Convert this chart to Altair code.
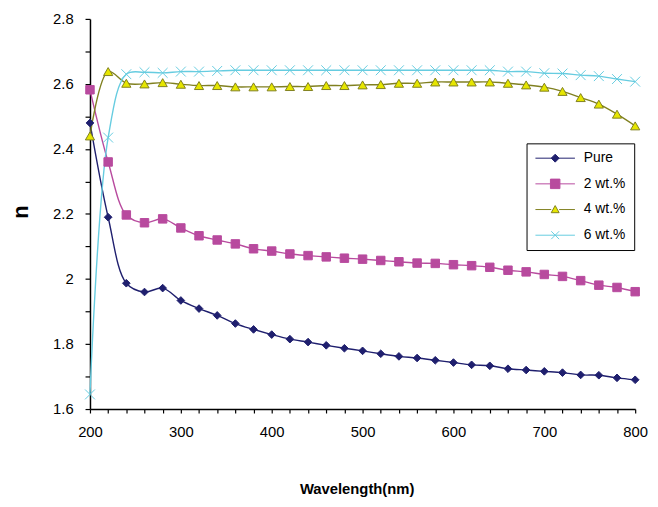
import altair as alt
import pandas as pd

wavelength = list(range(200, 801, 20))

pure = [2.48, 2.19, 1.987, 1.96, 1.972, 1.934, 1.909, 1.888, 1.863, 1.845, 1.829,
        1.815, 1.806, 1.796, 1.787, 1.779, 1.770, 1.762, 1.757, 1.750, 1.743,
        1.736, 1.733, 1.724, 1.720, 1.716, 1.712, 1.705, 1.704, 1.696, 1.690]
wt2 = [2.582, 2.36, 2.197, 2.173, 2.185, 2.157, 2.133, 2.12, 2.108, 2.093, 2.086,
       2.077, 2.072, 2.068, 2.064, 2.061, 2.057, 2.053, 2.049, 2.048, 2.044,
       2.041, 2.036, 2.027, 2.022, 2.014, 2.008, 1.995, 1.981, 1.974, 1.961]
wt4 = [2.44, 2.638, 2.602, 2.600, 2.604, 2.599, 2.595, 2.595, 2.591, 2.591, 2.591,
       2.592, 2.592, 2.595, 2.595, 2.597, 2.598, 2.602, 2.602, 2.606, 2.606,
       2.606, 2.606, 2.602, 2.597, 2.590, 2.577, 2.558, 2.538, 2.507, 2.471]
wt6 = [1.645, 2.435, 2.63, 2.636, 2.634, 2.638, 2.638, 2.640, 2.642, 2.642, 2.642,
       2.642, 2.642, 2.642, 2.642, 2.642, 2.642, 2.642, 2.642, 2.642, 2.642,
       2.642, 2.642, 2.638, 2.638, 2.633, 2.632, 2.627, 2.624, 2.615, 2.607]

series_names = ["Pure", "2 wt.%", "4 wt.%", "6 wt.%"]
line_colors = ["#1F1F6E", "#B84A9E", "#808020", "#66CCE0"]
fill_colors = ["#1F1F6E", "#B84A9E", "#E6E600", "#66CCE0"]
stroke_colors = ["#1F1F6E", "#B84A9E", "#808020", "#66CCE0"]

X_PATH = "M-1,-1L1,1M1,-1L-1,1"
shapes = ["diamond", "square", "triangle-up", X_PATH]
legend_shapes = [
    "M-5,0L5,0M0,-1L1,0L0,1L-1,0Z",
    "M-5,0L-1.2,0M1.2,0L5,0M-1.2,-1.2L1.2,-1.2L1.2,1.2L-1.2,1.2Z",
    "M-5,0L-1,0M1,0L5,0M0,-1L1,0.8L-1,0.8Z",
    "M-5,0L5,0M-1,-1L1,1M1,-1L-1,1",
]

rows = []
for name, vals in zip(series_names, [pure, wt2, wt4, wt6]):
    for w, v in zip(wavelength, vals):
        rows.append({"wavelength": w, "n": v, "series": name})
df = pd.DataFrame(rows)

x_enc = alt.X("wavelength:Q",
              scale=alt.Scale(domain=[200, 800], nice=False),
              axis=alt.Axis(values=list(range(200, 801, 20)),
                            labelExpr="datum.value % 100 == 0 ? datum.label : ''",
                            labelFlush=False,
                            title="Wavelength(nm)", grid=False,
                            titleX=270, titleY=81, titleBaseline="middle"))
y_enc = alt.Y("n:Q",
              scale=alt.Scale(domain=[1.6, 2.8], nice=False, zero=False),
              axis=alt.Axis(values=[round(1.6 + 0.1 * i, 1) for i in range(13)],
                            labelExpr="round(datum.value*10) % 2 == 0 ? format(datum.value, '.1~f') : ''",
                            labelFlush=False,
                            title="n", grid=False,
                            titleX=-70, titleY=195, titleBaseline="middle",
                            titleAngle=-90))

lines = alt.Chart(df).mark_line(interpolate="catmull-rom", strokeWidth=1.4).encode(
    x=x_enc, y=y_enc,
    color=alt.Color("series:N", scale=alt.Scale(domain=series_names, range=line_colors), legend=None),
    detail="series:N",
)

points = alt.Chart(df).mark_point(filled=True, opacity=1, strokeWidth=1).encode(
    x=x_enc, y=y_enc,
    fill=alt.Fill("series:N", scale=alt.Scale(domain=series_names, range=fill_colors), legend=None),
    stroke=alt.Stroke("series:N", scale=alt.Scale(domain=series_names, range=stroke_colors), legend=None),
    shape=alt.Shape("series:N", scale=alt.Scale(domain=series_names, range=shapes), legend=None),
    size=alt.Size("series:N", scale=alt.Scale(domain=series_names, range=[60, 100, 65, 55]), legend=None),
)

leg = alt.Legend(
    title=None, orient="none", legendX=442, legendY=126,
    strokeColor="black", fillColor="white", padding=8,
    symbolSize=64, symbolOffset=14, labelOffset=22,
    rowPadding=12, labelFontSize=14, labelColor="black",
    labelFont="Liberation Sans", symbolStrokeWidth=1,
)

legend_layer = alt.Chart(df).transform_filter("false").mark_point(
    filled=True, opacity=1, strokeWidth=1).encode(
    x=x_enc, y=y_enc,
    fill=alt.Fill("series:N", scale=alt.Scale(domain=series_names, range=fill_colors), legend=leg),
    stroke=alt.Stroke("series:N", scale=alt.Scale(domain=series_names, range=stroke_colors), legend=leg),
    shape=alt.Shape("series:N", scale=alt.Scale(domain=series_names, range=legend_shapes), legend=leg),
)

chart = alt.layer(lines, points, legend_layer).resolve_scale(
    shape="independent", fill="independent", stroke="independent"
).resolve_legend(
    shape="independent", fill="independent", stroke="independent"
).properties(
    width=552, height=395,
    padding={"left": 83, "top": 8, "right": 15, "bottom": 86},
    autosize=alt.AutoSizeParams(type="none"),
    background="white",
).configure_view(stroke=None).configure_axis(
    domainColor="black", domainWidth=1.5, tickColor="black", tickWidth=1.2,
    labelColor="black", labelFont="Liberation Sans", labelFontSize=15,
    titleFont="Liberation Sans", titleColor="black", titleFontWeight="bold",
).configure_axisX(
    tickSize=4, labelPadding=12, titleFontSize=15,
).configure_axisY(
    tickSize=5, labelPadding=12, titleFontSize=22,
)

chart.save("out.html", embed_options={"renderer": "svg", "actions": False})
